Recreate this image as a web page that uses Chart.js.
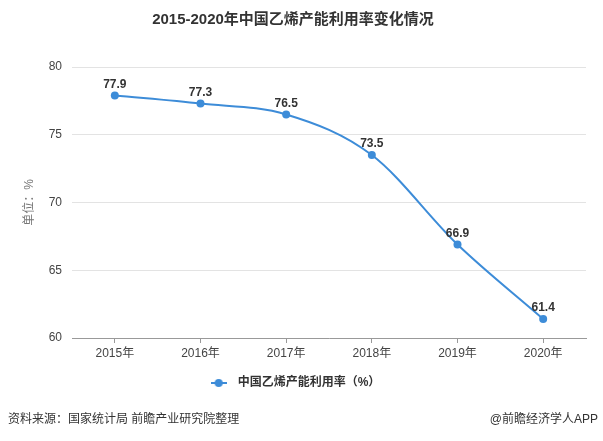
<!DOCTYPE html>
<html>
<head>
<meta charset="utf-8">
<script src="https://cdn.jsdelivr.net/npm/chart.js@4"></script>
<style>
  html, body { margin: 0; padding: 0; background: #fff; }
  #wrap { width: 603px; height: 441px; position: relative; }
</style>
</head>
<body>
<div id="wrap"><canvas id="chart" width="603" height="441"></canvas></div>
<script>
// chart data
const years = ['2015年', '2016年', '2017年', '2018年', '2019年', '2020年'];
const utilization = [77.9, 77.3, 76.5, 73.5, 66.9, 61.4];
const seriesName = '中国乙烯产能利用率（%）';
const titleText = '2015-2020年中国乙烯产能利用率变化情况';
const sourceText = '资料来源：国家统计局 前瞻产业研究院整理';
const brandText = '@前瞻经济学人APP';

const FONT = '"Liberation Sans", "Noto Sans CJK SC", sans-serif';
const BLUE = '#3d8cd8';

// legend icon: line with dot
function legendIcon() {
  const c = document.createElement('canvas');
  c.width = 16; c.height = 10;
  const g = c.getContext('2d');
  g.strokeStyle = BLUE;
  g.lineWidth = 2;
  g.beginPath(); g.moveTo(0, 5); g.lineTo(16, 5); g.stroke();
  g.fillStyle = BLUE;
  g.beginPath(); g.arc(8, 5, 4, 0, Math.PI * 2); g.fill();
  return c;
}

// value labels above the points
const valueLabels = {
  id: 'valueLabels',
  afterDatasetsDraw(chart) {
    const ctx = chart.ctx;
    const meta = chart.getDatasetMeta(0);
    ctx.save();
    ctx.font = 'bold 12px ' + FONT;
    ctx.fillStyle = '#333';
    ctx.textAlign = 'center';
    ctx.textBaseline = 'bottom';
    meta.data.forEach((pt, i) => {
      ctx.fillText(utilization[i].toFixed(1), pt.x, pt.y - 5);
    });
    ctx.restore();
  }
};

// source line at the bottom
const footer = {
  id: 'footer',
  afterDraw(chart) {
    const ctx = chart.ctx;
    ctx.save();
    ctx.font = '12px ' + FONT;
    ctx.fillStyle = '#333';
    ctx.textBaseline = 'middle';
    ctx.textAlign = 'left';
    ctx.fillText(sourceText, 8, 420);
    ctx.textAlign = 'right';
    ctx.fillText(brandText, 598, 420);
    ctx.restore();
  }
};

new Chart(document.getElementById('chart'), {
  type: 'line',
  data: {
    labels: years,
    datasets: [{
      label: seriesName,
      data: utilization,
      borderColor: BLUE,
      backgroundColor: BLUE,
      borderWidth: 2,
      pointRadius: 4,
      pointBackgroundColor: BLUE,
      pointBorderWidth: 0,
      cubicInterpolationMode: 'monotone',
      fill: false
    }]
  },
  options: {
    responsive: false,
    animation: false,
    layout: { padding: { left: 0, right: 17, top: 0, bottom: 42 } },
    scales: {
      x: {
        offset: true,
        grid: { offset: false, drawOnChartArea: false, tickLength: 5, color: '#999' },
        border: { color: '#999' },
        ticks: { color: '#444', font: { size: 12, family: FONT }, padding: 3 },
        afterFit(scale) { scale.height = 30; }
      },
      y: {
        min: 60,
        max: 80,
        ticks: { stepSize: 5, color: '#444', font: { size: 12, family: FONT }, padding: 10 },
        grid: { color: '#e3e3e3', drawTicks: false },
        border: { display: false },
        title: {
          display: true,
          text: '单位：%',
          color: '#777',
          font: { size: 12, family: FONT },
          padding: { top: 22, bottom: 0 }
        },
        afterFit(scale) { scale.width = 72; }
      }
    },
    plugins: {
      title: {
        display: true,
        text: titleText,
        color: '#333',
        font: { size: 15, weight: 'bold', family: FONT },
        padding: { top: 11, bottom: 38 }
      },
      legend: {
        position: 'bottom',
        labels: {
          color: '#333',
          font: { size: 12, weight: 'bold', family: FONT },
          padding: 9,
          usePointStyle: true,
          pointStyleWidth: 26,
          generateLabels(chart) {
            return [{
              text: seriesName,
              pointStyle: legendIcon(),
              fillStyle: BLUE,
              strokeStyle: BLUE,
              fontColor: '#333',
              datasetIndex: 0,
              hidden: false
            }];
          }
        }
      },
      tooltip: { enabled: false }
    }
  },
  plugins: [valueLabels, footer]
});
</script>
</body>
</html>
